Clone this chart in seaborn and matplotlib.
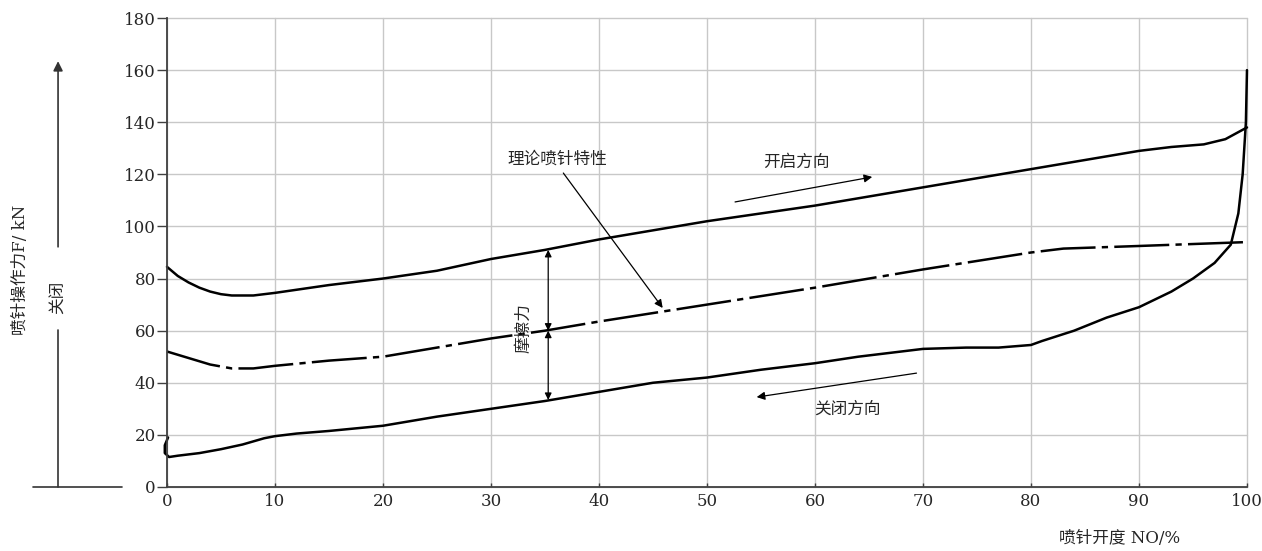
"""Needle valve operating force vs. needle opening (hysteresis chart)."""

import matplotlib
matplotlib.use("Agg")
import matplotlib.pyplot as plt
import seaborn as sns

# opening direction (upper branch)
open_x = [0, 1, 2, 3, 4, 5, 6, 8, 10, 15, 20, 25, 30, 35, 40, 45, 50, 55,
          60, 65, 70, 75, 80, 85, 90, 93, 96, 98, 100]
open_y = [84.5, 81, 78.5, 76.5, 75, 74, 73.5, 73.5, 74.5, 77.5, 80, 83, 87.5,
          91, 95, 98.5, 102, 105, 108, 111.5, 115, 118.5, 122, 125.5, 129,
          130.5, 131.5, 133.5, 138]

# theoretical needle characteristic (dash-dot)
theory_x = [0, 2, 4, 6, 8, 10, 15, 20, 25, 30, 35, 40, 50, 60, 70, 80, 83,
            90, 100]
theory_y = [52, 49.5, 47, 45.5, 45.5, 46.5, 48.5, 50, 53.5, 57, 60, 63.5, 70,
            76.5, 83.5, 90, 91.5, 92.5, 94]

# closing direction (from the top at 100 % back down to 0)
close_x = [100, 99.9, 99.6, 99.2, 98.5, 97, 95, 93, 90, 87, 84, 81, 80, 77,
           74, 70, 67, 64, 60, 55, 50, 45, 40, 35, 30, 25, 20, 15, 12, 10, 9,
           8, 7, 5, 3, 1, 0.2, -0.2, -0.2, 0.1]
close_y = [160, 140, 120, 105, 93, 86, 80, 75, 69, 65, 60, 56, 54.5, 53.5,
           53.5, 53, 51.5, 50, 47.5, 45, 42, 40, 36.5, 33, 30, 27, 23.5, 21.5,
           20.5, 19.5, 18.7, 17.5, 16.3, 14.5, 13, 12, 11.5, 13, 16, 19]

x_ticks = list(range(0, 101, 10))
y_ticks = list(range(0, 181, 20))

sns.set_theme(style="whitegrid")
plt.rcParams['font.family'] = ['DejaVu Serif', 'Noto Sans CJK SC']

fig = plt.figure(figsize=(12.62, 5.51), dpi=100)
ax = fig.add_axes([0.1323, 0.1162, 0.8558, 0.8511])

line_kw = dict(color='black', linewidth=1.8, sort=False, estimator=None,
               clip_on=False, ax=ax)
sns.lineplot(x=open_x, y=open_y, **line_kw)
sns.lineplot(x=theory_x, y=theory_y, linestyle=(0, (22, 2.5, 2.5, 2.5)), **line_kw)
sns.lineplot(x=close_x, y=close_y, **line_kw)

ax.set_xlim(0, 100)
ax.set_ylim(0, 180)
ax.set_xticks(x_ticks)
ax.set_yticks(y_ticks)
ax.grid(True, color='#c8c8c8', linewidth=1.0)
for gl in ax.get_xgridlines() + ax.get_ygridlines():
    gl.set_clip_on(False)
ax.set_facecolor('white')
for side in ['top', 'right']:
    ax.spines[side].set_visible(False)
for side in ['left', 'bottom']:
    ax.spines[side].set_color('#404040')
    ax.spines[side].set_linewidth(1.3)
ax.tick_params(axis='y', direction='out', length=7, width=1, color='#404040',
               pad=1, labelsize=12, left=True)
ax.tick_params(axis='x', direction='in', length=3, width=1, color='#404040',
               pad=4, labelsize=12, bottom=True)

# annotations inside the plot
arrow_kw = dict(arrowstyle='-|>', color='black', lw=0.9,
                mutation_scale=12, shrinkA=0, shrinkB=0)
ax.annotate('', xy=(65.3, 119), xytext=(52.6, 109.4), arrowprops=arrow_kw)
ax.text(58.3, 121.5, '开启方向', fontsize=12, ha='center', va='bottom')
ax.annotate('', xy=(54.6, 34.5), xytext=(69.4, 43.7), arrowprops=arrow_kw)
ax.text(63, 30, '关闭方向', fontsize=12, ha='center', va='center')
ax.annotate('', xy=(45.9, 68.7), xytext=(36.7, 120.5), arrowprops=arrow_kw)
ax.text(36.1, 126, '理论喷针特性', fontsize=12, ha='center', va='center')

dbl = dict(arrowstyle='<|-|>', color='black', lw=0.9,
           mutation_scale=10, shrinkA=0, shrinkB=0)
ax.annotate('', xy=(35.3, 91), xytext=(35.3, 60), arrowprops=dbl)
ax.annotate('', xy=(35.3, 60), xytext=(35.3, 33.4), arrowprops=dbl)
ax.text(33.0, 61, '摩擦力', fontsize=12, rotation=90, ha='center', va='center')

# left-hand force direction indicator
fig.add_artist(plt.Line2D([0.026, 0.097], [0.116, 0.116], color='#333333',
                          lw=1.2, transform=fig.transFigure))
fig.add_artist(plt.Line2D([0.046, 0.046], [0.116, 0.401], color='#333333',
                          lw=1.2, transform=fig.transFigure))
ax.annotate('', xy=(0.046, 0.889), xytext=(0.046, 0.552), xycoords='figure fraction',
            textcoords='figure fraction',
            arrowprops=dict(arrowstyle='-|>', color='#333333', lw=1.2,
                            mutation_scale=14, shrinkA=0, shrinkB=0))
fig.text(0.046, 0.461, '关闭', fontsize=12, rotation=90, ha='center', va='center')
fig.text(0.016, 0.51, '喷针操作力F/ kN', fontsize=12, rotation=90,
         ha='center', va='center')
fig.text(0.887, 0.022, '喷针开度 NO/%', fontsize=12, ha='center', va='center')

fig.savefig('out.png', dpi=100, facecolor='white')
